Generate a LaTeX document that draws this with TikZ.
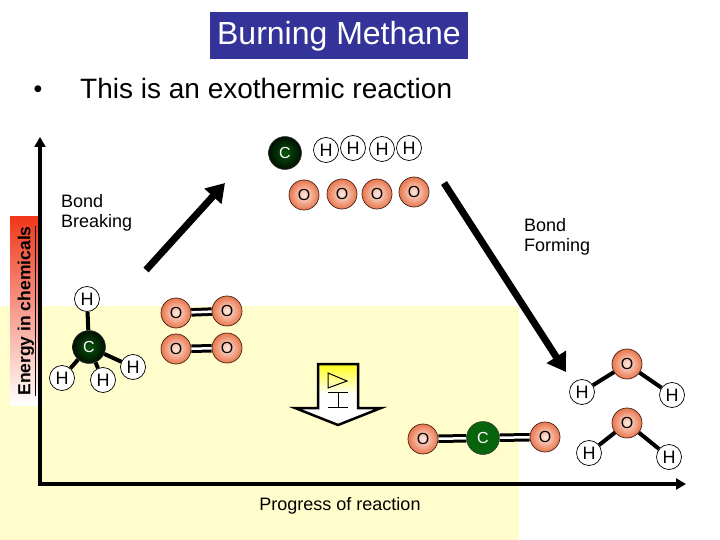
\documentclass[tikz,border=0pt]{standalone}
\usepackage{fontspec}
\usepackage{xcolor}
\setmainfont{Liberation Sans}
\usetikzlibrary{arrows.meta}
\definecolor{titleblue}{RGB}{51,51,153}
\definecolor{paleyellow}{RGB}{255,253,204}
\definecolor{oxygenrim}{RGB}{232,118,76}
\definecolor{oxygenmid}{RGB}{255,232,224}
\definecolor{carbongreen}{RGB}{8,100,12}
\definecolor{energyred}{RGB}{240,56,28}

\begin{document}
\begin{tikzpicture}[
        x=1pt, y=-1pt,
        hatom/.style = {draw=black, circle, fill=white, line width=0.7pt, inner sep=0pt, minimum size=25pt, font=\fontsize{18}{18}\selectfont},
        oatom/.style = {draw=black!70!oxygenrim, circle, inner color=oxygenmid, outer color=oxygenrim, line width=0.7pt, inner sep=0pt, minimum size=30pt, font=\fontsize{16}{16}\selectfont},
        catom/.style = {draw=black!80, circle, inner color=carbongreen!85!black, outer color=black!85!carbongreen, line width=0.5pt, inner sep=0pt, minimum size=33pt, text=white, font=\fontsize{16}{16}\selectfont},
        flatcatom/.style = {catom, inner color=carbongreen, outer color=carbongreen},
        singlebond/.style = {draw=black, line width=4pt},
        doublebond/.style = {draw=black, line width=3pt, double=white, double distance=2.5pt},
        bigarrow/.style = {draw=black, line width=7pt, -{Triangle[length=18pt, width=22pt]}},
        axisline/.style = {draw=black, line width=4pt, -{Triangle[length=10pt, width=11pt]}},
        labeltext/.style = {align=left, anchor=west, font=\fontsize{18}{20.5}\selectfont}
    ]
        \useasboundingbox (0,0) rectangle (720,540);

        % Background and energy scale
        \fill [paleyellow] (0,306) rectangle (519,540);
        \shade [top color=energyred, bottom color=white] (10,217) rectangle (39,405);

        % Axes
        \coordinate (origin) at (38,484);
        \coordinate (ytip) at (40,137);
        \coordinate (xtip) at (686,484);
        \coordinate (ystart) at (40,482);
        \draw [axisline] (ystart) -- (ytip);
        \draw [axisline] (origin) -- (xtip);

        % Title
        \node (title) [fill=titleblue, text=white, minimum width=258pt, inner sep=0pt, text height=33pt, text depth=14pt, font=\fontsize{32}{32}\selectfont] at (339,35.5) {Burning Methane};
        \node (bullet) [anchor=base, inner sep=0pt, font=\fontsize{25}{25}\selectfont] at (38,98) {•};
        \node (heading) [anchor=base west, inner sep=0pt, font=\fontsize{28}{28}\selectfont] at (80,99) {This is an exothermic reaction};

        % Labels
        \node (energy) [rotate=90, inner sep=0pt, font=\bfseries\fontsize{17.5}{17.5}\selectfont] at (27,311) {\underline{Energy in chemicals}};
        \node (breaking) [labeltext, inner sep=0pt] at (61,213) {Bond\\Breaking};
        \node (forming) [labeltext, inner sep=0pt] at (524,237) {Bond\\Forming};
        \node (progress) [font=\fontsize{18}{18}\selectfont] at (340,506) {Progress of reaction};

        % Separated atoms
        \node (topc) [catom] at (285,153) {C};
        \node (toph1) [hatom] at (326,150) {H};
        \node (toph2) [hatom] at (353,148) {H};
        \node (toph3) [hatom] at (382,149) {H};
        \node (toph4) [hatom] at (409,148) {H};
        \node (topo1) [oatom] at (304,195) {O};
        \node (topo2) [oatom] at (342,194) {O};
        \node (topo3) [oatom] at (377,194) {O};
        \node (topo4) [oatom] at (414,192) {O};

        % Methane
        \node (mc) [catom] at (89,347) {C};
        \node (mh1) [hatom] at (87,299) {H};
        \node (mh2) [hatom] at (62,378) {H};
        \node (mh3) [hatom] at (103,380) {H};
        \node (mh4) [hatom] at (133,367) {H};
        \draw [singlebond] (mc) -- (mh1);
        \draw [singlebond] (mc) -- (mh2);
        \draw [singlebond] (mc) -- (mh3);
        \draw [singlebond] (mc) -- (mh4);

        % Oxygen
        \node (oa1) [oatom] at (176,313) {O};
        \node (oa2) [oatom] at (227,311) {O};
        \node (ob1) [oatom] at (176,349) {O};
        \node (ob2) [oatom] at (227,348) {O};
        \draw [doublebond] (oa1) -- (oa2);
        \draw [doublebond] (ob1) -- (ob2);

        % Carbon dioxide
        \node (co2c) [flatcatom] at (483,438) {C};
        \node (co2l) [oatom] at (423,439) {O};
        \node (co2r) [oatom] at (545,437) {O};
        \draw [doublebond] (co2l) -- (co2c);
        \draw [doublebond] (co2c) -- (co2r);

        % Water
        \node (wao) [oatom] at (627,364) {O};
        \node (wah1) [hatom] at (582,392) {H};
        \node (wah2) [hatom] at (672,395) {H};
        \node (wbo) [oatom] at (627,423) {O};
        \node (wbh1) [hatom] at (589,453) {H};
        \node (wbh2) [hatom] at (669,457) {H};
        \draw [singlebond] (wao) -- (wah1);
        \draw [singlebond] (wao) -- (wah2);
        \draw [singlebond] (wbo) -- (wbh1);
        \draw [singlebond] (wbo) -- (wbh2);

        % Reaction arrows
        \coordinate (upstart) at (146,270);
        \coordinate (uptip) at (225,183);
        \coordinate (downstart) at (444,183);
        \coordinate (downtip) at (566,372);
        \draw [bigarrow] (upstart) -- (uptip);
        \draw [bigarrow] (downstart) -- (downtip);

        % Down arrow with symbol
        \draw [line width=2.5pt, top color=yellow!90!white, bottom color=white, middle color=white] (318,364) -- (358,364) -- (358,408) -- (381,408) -- (338,425) -- (295,408) -- (318,408) -- cycle;
        \draw [line width=1pt] (328,373) -- (347,381) -- (328,388) -- cycle;
        \draw [line width=1pt] (328,392) -- (348,392) (338,392) -- (338,407) (328,407) -- (348,407);

    \end{tikzpicture}
\end{document}
